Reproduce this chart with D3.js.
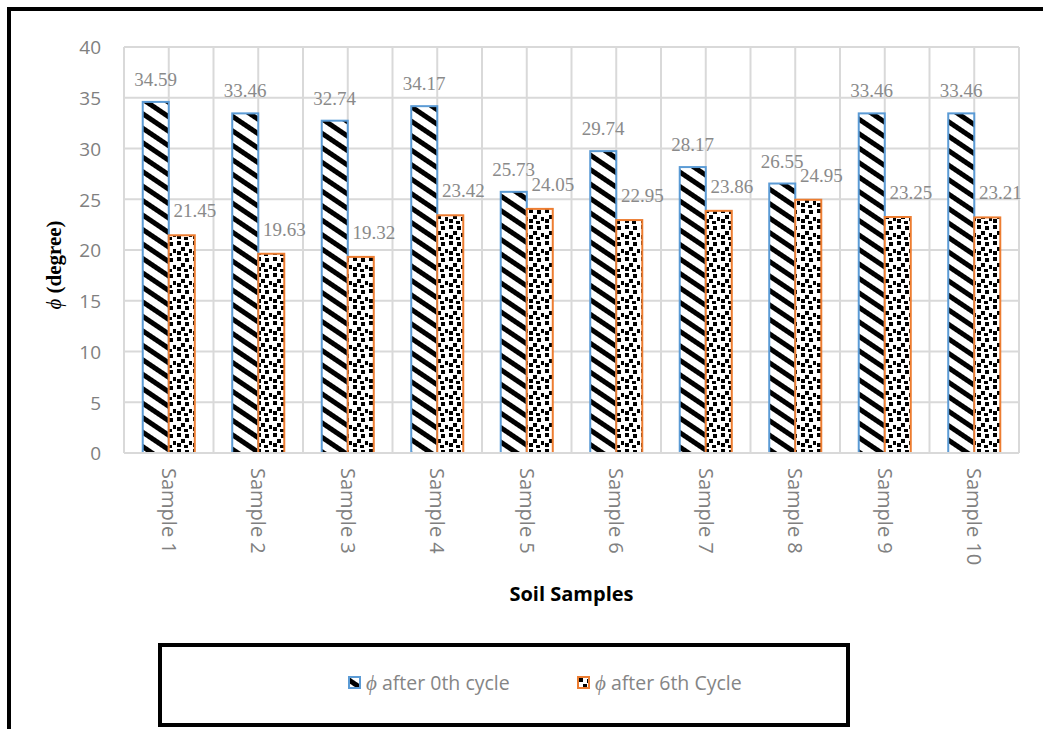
<!DOCTYPE html>
<html>
<head>
<meta charset="utf-8">
<script src="https://cdn.jsdelivr.net/npm/d3@7"></script>
<style>
  html, body { margin: 0; padding: 0; background: #fff; }
  svg { display: block; }
</style>
</head>
<body>
<svg id="chart" width="1043" height="729"></svg>
<script>
// Friction angle of each soil sample before and after freeze-thaw cycling
const categories = ["Sample 1", "Sample 2", "Sample 3", "Sample 4", "Sample 5",
                    "Sample 6", "Sample 7", "Sample 8", "Sample 9", "Sample 10"];
const phiCycle0 = [34.59, 33.46, 32.74, 34.17, 25.73, 29.74, 28.17, 26.55, 33.46, 33.46];
const phiCycle6 = [21.45, 19.63, 19.32, 23.42, 24.05, 22.95, 23.86, 24.95, 23.25, 23.21];
const seriesNames = ["after 0th cycle", "after 6th Cycle"];
const yTicks = [0, 5, 10, 15, 20, 25, 30, 35, 40];

const svg = d3.select("#chart");
const W = 1043, H = 729;
const plot = { left: 124, right: 1019, top: 47, bottom: 453 };

const series = [
  { name: seriesNames[0], values: phiCycle0, fill: "url(#stripes)", stroke: "#5b9bd5", labelDx: 0, labelDy: -16 },
  { name: seriesNames[1], values: phiCycle6, fill: "url(#confetti)", stroke: "#ed7d31", labelDx: 13, labelDy: -18 }
];

// ---- fill patterns ----
const defs = svg.append("defs");
const stripes = defs.append("pattern")
  .attr("id", "stripes")
  .attr("patternUnits", "userSpaceOnUse")
  .attr("width", 12).attr("height", 12)
  .attr("patternTransform", "rotate(34)");
stripes.append("rect").attr("width", 12).attr("height", 12).attr("fill", "#fff");
stripes.append("rect").attr("width", 12).attr("height", 5).attr("fill", "#000");

const confetti = defs.append("pattern")
  .attr("id", "confetti")
  .attr("patternUnits", "userSpaceOnUse")
  .attr("width", 16).attr("height", 16);
confetti.append("rect").attr("width", 16).attr("height", 16).attr("fill", "#fff");
[[1, 1], [9, 2], [5, 7], [13, 9], [1, 11], [8, 13]].forEach(([cx, cy]) => {
  confetti.append("rect").attr("x", cx).attr("y", cy)
    .attr("width", 4).attr("height", 4).attr("fill", "#000");
});

// ---- outer frame ----
svg.append("rect")
  .attr("x", 9).attr("y", 9)
  .attr("width", W + 20).attr("height", H + 20)
  .attr("fill", "none").attr("stroke", "#000").attr("stroke-width", 4);

// ---- scales ----
const x = d3.scaleBand().domain(categories).range([plot.left, plot.right]);
const xInner = d3.scaleBand().domain(d3.range(series.length))
  .range([0, x.bandwidth()]).paddingInner(0).paddingOuter(0.72);
const y = d3.scaleLinear().domain([0, 40]).range([plot.bottom, plot.top]);

const gridColor = "#d9d9d9";

// horizontal gridlines
svg.append("g")
  .selectAll("line").data(yTicks).join("line")
  .attr("x1", plot.left).attr("x2", plot.right)
  .attr("y1", d => y(d)).attr("y2", d => y(d))
  .attr("stroke", gridColor).attr("stroke-width", 2);

// vertical gridlines at category boundaries and centres
const vLines = [];
categories.forEach(c => { vLines.push(x(c)); vLines.push(x(c) + x.bandwidth() / 2); });
vLines.push(plot.right);
svg.append("g")
  .selectAll("line").data(vLines).join("line")
  .attr("x1", d => d).attr("x2", d => d)
  .attr("y1", plot.top).attr("y2", plot.bottom)
  .attr("stroke", gridColor).attr("stroke-width", 2);

// y axis tick labels
const yAxis = d3.axisLeft(y).tickValues(yTicks).tickSize(0).tickPadding(23);
const gy = svg.append("g").attr("transform", `translate(${plot.left},0)`).call(yAxis);
gy.select(".domain").remove();
gy.selectAll("text")
  .attr("font-family", "'Open Sans', sans-serif")
  .attr("font-size", 19)
  .attr("fill", "#808080")
  .attr("dy", "0.36em");

// ---- bars ----
series.forEach((s, si) => {
  const g = svg.append("g");
  g.selectAll("rect").data(s.values).join("rect")
    .attr("x", (d, i) => x(categories[i]) + xInner(si))
    .attr("y", d => y(d))
    .attr("width", xInner.bandwidth())
    .attr("height", d => y(0) - y(d))
    .attr("fill", s.fill)
    .attr("stroke", s.stroke)
    .attr("stroke-width", 2);
  g.selectAll("text").data(s.values).join("text")
    .attr("x", (d, i) => x(categories[i]) + xInner(si) + xInner.bandwidth() / 2 + s.labelDx)
    .attr("y", d => y(d) + s.labelDy)
    .attr("text-anchor", "middle")
    .attr("font-family", "'Liberation Serif', 'Times New Roman', serif")
    .attr("font-size", 19)
    .attr("fill", "#8a8a8a")
    .text(d => d.toFixed(2));
});

// x axis baseline
svg.append("line")
  .attr("x1", plot.left).attr("x2", plot.right)
  .attr("y1", plot.bottom).attr("y2", plot.bottom)
  .attr("stroke", gridColor).attr("stroke-width", 2);

// x axis category labels, rotated to read downward
const xAxis = d3.axisBottom(x).tickSize(0).tickPadding(0);
const gx = svg.append("g").attr("transform", `translate(0,${plot.bottom})`).call(xAxis);
gx.select(".domain").remove();
gx.selectAll("text")
  .attr("font-family", "'Open Sans', sans-serif")
  .attr("font-size", 20)
  .attr("fill", "#808080")
  .attr("text-anchor", "start")
  .attr("transform", "rotate(90)")
  .attr("x", 15)
  .attr("y", 0)
  .attr("dy", "0.35em");

// axis titles
svg.append("text")
  .attr("x", (plot.left + plot.right) / 2)
  .attr("y", 601)
  .attr("text-anchor", "middle")
  .attr("font-family", "'Open Sans', sans-serif")
  .attr("font-weight", "bold")
  .attr("font-size", 20)
  .attr("fill", "#000")
  .text("Soil Samples");

const yTitle = svg.append("text")
  .attr("transform", `translate(61,${(plot.top + plot.bottom) / 2 + 15}) rotate(-90)`)
  .attr("text-anchor", "middle")
  .attr("font-family", "'Liberation Serif', 'Times New Roman', serif")
  .attr("font-size", 21)
  .attr("fill", "#000");
yTitle.append("tspan").attr("font-style", "italic").text("ϕ ");
yTitle.append("tspan").attr("font-weight", "bold").text("(degree)");

// ---- legend ----
svg.append("rect")
  .attr("x", 160).attr("y", 645)
  .attr("width", 688).attr("height", 80)
  .attr("fill", "#fff").attr("stroke", "#000").attr("stroke-width", 4);

const legendX = [349, 578];
series.forEach((s, si) => {
  const lg = svg.append("g").attr("transform", `translate(${legendX[si]},677)`);
  lg.append("rect")
    .attr("width", 11).attr("height", 11)
    .attr("fill", s.fill).attr("stroke", s.stroke).attr("stroke-width", 2);
  const t = lg.append("text")
    .attr("x", 17).attr("y", 6).attr("dy", "0.35em")
    .attr("font-family", "'Open Sans', sans-serif")
    .attr("font-size", 19.5)
    .attr("fill", "#858585");
  t.append("tspan").attr("font-family", "'Liberation Serif', serif").attr("font-style", "italic").attr("font-size", 21).text("ϕ");
  t.append("tspan").text(" " + s.name);
});
</script>
</body>
</html>
